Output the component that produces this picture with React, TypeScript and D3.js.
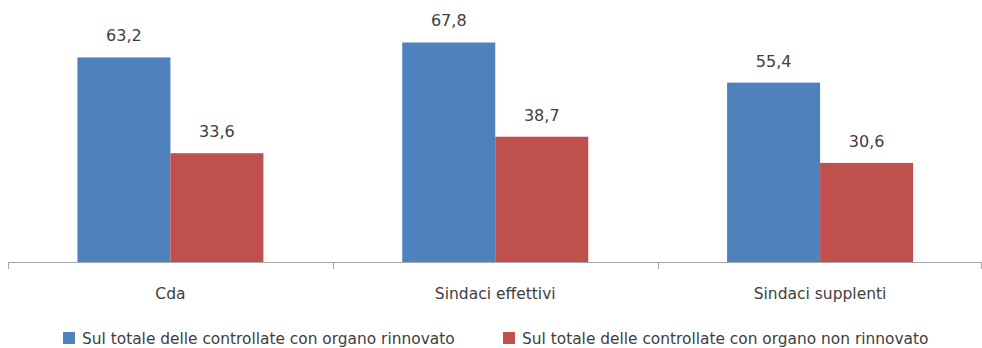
import React from "react";
import * as d3 from "d3";

const categories = ["Cda", "Sindaci effettivi", "Sindaci supplenti"];
const seriesNames = [
  "Sul totale delle controllate con organo rinnovato",
  "Sul totale delle controllate con organo non rinnovato",
];
const rinnovato = [63.2, 67.8, 55.4];
const nonRinnovato = [33.6, 38.7, 30.6];
const colors = ["#4F81BD", "#C0504D"];

const W = 982;
const H = 348;
const FONT = "'DejaVu Sans', Verdana, sans-serif";
const TEXT = "#404040";

export default function App() {
  const x0 = d3.scaleBand<string>().domain(categories).range([8, 982.5]).paddingInner(0).paddingOuter(0);
  const bw = x0.bandwidth();
  const barW = 93;
  const gap = bw - 2 * barW;
  const y = d3.scaleLinear().domain([0, 80]).range([262, 3]);
  const series = [rinnovato, nonRinnovato];
  const fmt = (v: number) => v.toFixed(1).replace(".", ",");
  const ticks = [...categories.map((c) => x0(c)!), 981];

  return (
    <svg width={W} height={H} style={{ position: "absolute", left: 0, top: 0 }} fontFamily={FONT}>
      <rect width={W} height={H} fill="#fff" />
      {series.map((vals, si) =>
        vals.map((v, ci) => {
          const bx = x0(categories[ci])! + gap / 2 + si * barW;
          return (
            <g key={`${si}-${ci}`}>
              <rect x={bx} y={y(v)} width={barW} height={y(0) - y(v)} fill={colors[si]} />
              <text x={bx + barW / 2} y={y(v) - 16} textAnchor="middle" fontSize={16} fill={TEXT}>
                {fmt(v)}
              </text>
            </g>
          );
        })
      )}
      <line x1={8} x2={982} y1={262.5} y2={262.5} stroke="#A6A6A6" strokeWidth={1} />
      {ticks.map((t, i) => (
        <line key={i} x1={Math.round(t) + 0.5} x2={Math.round(t) + 0.5} y1={262} y2={269} stroke="#A6A6A6" strokeWidth={1} />
      ))}
      {categories.map((c) => (
        <text key={c} x={x0(c)! + bw / 2} y={299} textAnchor="middle" fontSize={15.5} fill={TEXT}>
          {c}
        </text>
      ))}
      <rect x={63} y={332} width={12} height={12} fill={colors[0]} />
      <text x={82} y={343.5} fontSize={15.4} fill={TEXT}>{seriesNames[0]}</text>
      <rect x={503} y={332} width={12} height={12} fill={colors[1]} />
      <text x={522} y={343.5} fontSize={15.4} fill={TEXT}>{seriesNames[1]}</text>
    </svg>
  );
}
